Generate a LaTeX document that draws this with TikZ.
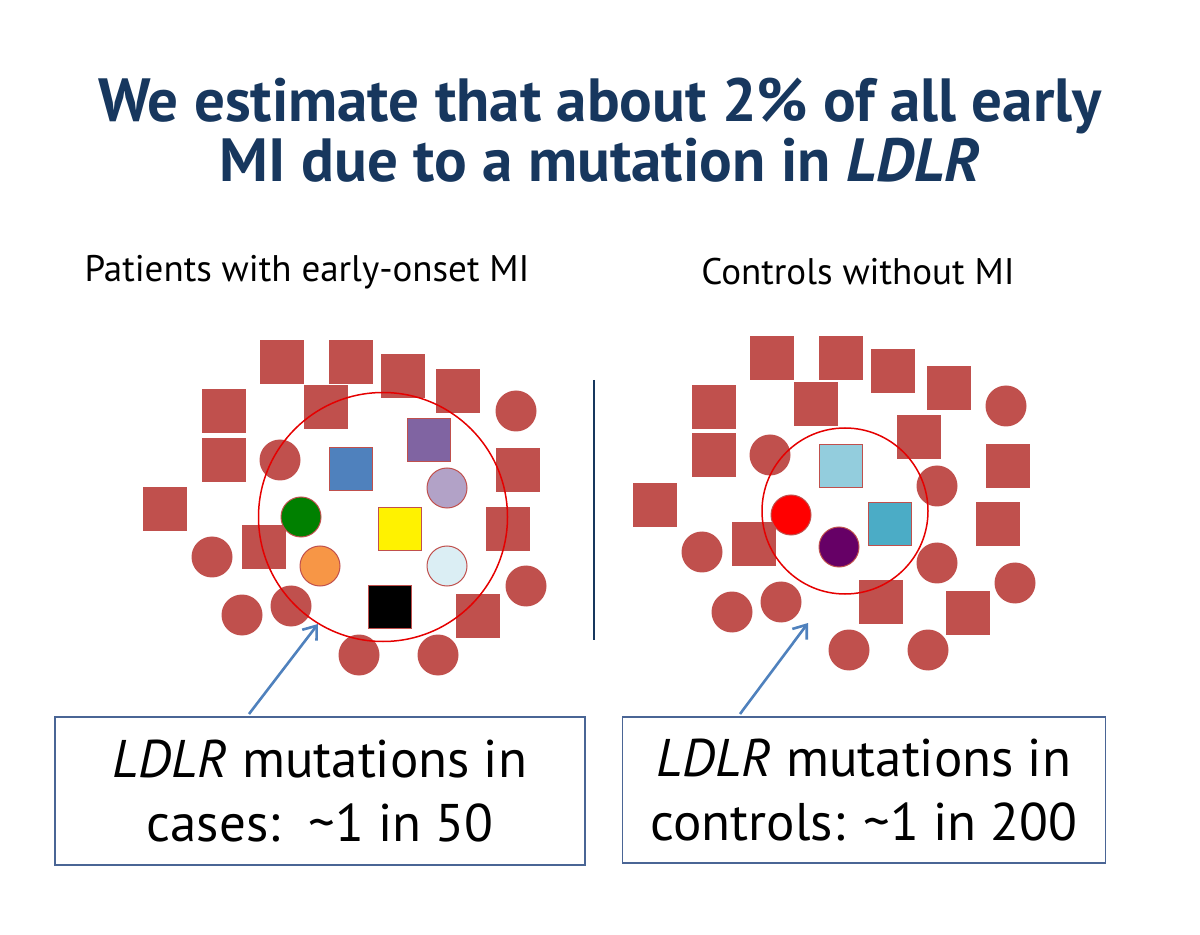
\documentclass[tikz,border=0pt]{standalone}
\usepackage{fontspec}
\setmainfont{PT Sans}
\usepackage{tikz}
\usetikzlibrary{arrows.meta}

\definecolor{brick}{HTML}{C0504D}
\definecolor{navy}{HTML}{17375E}
\definecolor{arrowblue}{HTML}{4F81BD}
\definecolor{boxline}{HTML}{4A6595}
\definecolor{mutpurple}{HTML}{8064A2}
\definecolor{mutlilac}{HTML}{B2A2C7}
\definecolor{mutgreen}{HTML}{008000}
\definecolor{mutorange}{HTML}{F79646}
\definecolor{mutpale}{HTML}{DBEEF4}
\definecolor{mutsky}{HTML}{93CDDD}
\definecolor{mutteal}{HTML}{4BACC6}
\definecolor{mutplum}{HTML}{660066}

\tikzset{
  sq/.style={rectangle, fill=brick, minimum size=22pt, inner sep=0pt},
  dot/.style={circle, fill=brick, minimum size=20.5pt, inner sep=0pt},
  mark sq/.style={rectangle, draw=brick, line width=0.5pt, fill=#1, minimum size=21.5pt, inner sep=0pt},
  mark dot/.style={circle, draw=brick, line width=0.5pt, fill=#1, minimum size=20pt, inner sep=0pt},
  ring/.style={circle, draw=red!90!black, line width=0.75pt, inner sep=0pt},
  result/.style={rectangle, draw=boxline, line width=0.7pt, align=center, inner sep=0pt,
    font=\fontsize{26.5}{32}\selectfont},
  arr/.style={-{Straight Barb[length=6pt,width=9pt]}, arrowblue, line width=1.3pt}
}

\begin{document}
\begin{tikzpicture}[x=0.5pt,y=-0.5pt]
\useasboundingbox (0,0) rectangle (1200,935);

\node[font=\fontsize{30.5}{30}\bfseries\selectfont, text=navy, align=center] (title) at (600,130)
  {We estimate that about 2\% of all early\\MI due to a mutation in \textit{LDLR}};

\node[font=\fontsize{18.5}{22}\selectfont] (headL) at (307,272) {Patients with early-onset MI};
\node[font=\fontsize{18.5}{22}\selectfont] (headR) at (858,272) {Controls without MI};

% cases
\foreach \x/\y [count=\i] in {282/362, 351/362, 403/376, 458/391, 326/407, 224/411, 224/460,
  165/509, 264/547, 518/470, 508/529, 478/616}
  \node[sq] (sqL\i) at (\x,\y) {};
\foreach \x/\y [count=\i] in {516/411, 280/460, 212/557, 242/615, 291/606, 526/586, 359/655, 438/655}
  \node[dot] (dotL\i) at (\x,\y) {};
\node[mark sq=arrowblue] (blueL) at (351,469) {};
\node[mark sq=mutpurple] (purpleL) at (429,440) {};
\node[mark sq=yellow] (yellowL) at (400,529) {};
\node[mark sq=black] (blackL) at (390,607) {};
\node[mark dot=mutlilac] (lilacL) at (447,488) {};
\node[mark dot=mutgreen] (greenL) at (301,517) {};
\node[mark dot=mutorange] (orangeL) at (320,566) {};
\node[mark dot=mutpale] (paleL) at (447,566) {};
\node[ring, minimum size=124.5pt] (ringL) at (383,517) {};

% controls
\foreach \x/\y [count=\i] in {772/358, 841/358, 893/371, 949/388, 816/404, 714/407, 714/455,
  655/505, 754/544, 919/437, 1008/466, 998/524, 881/602, 968/613}
  \node[sq] (sqR\i) at (\x,\y) {};
\foreach \x/\y [count=\i] in {1006/406, 770/455, 937/486, 702/552, 937/563, 1015/583,
  732/612, 781/602, 849/650, 928/650}
  \node[dot] (dotR\i) at (\x,\y) {};
\node[mark sq=mutsky] (skyR) at (841,466) {};
\node[mark sq=mutteal] (tealR) at (890,524) {};
\node[mark dot=red] (redR) at (791,515) {};
\node[mark dot=mutplum] (plumR) at (839,547) {};
\node[ring, minimum size=83pt] (ringR) at (845,511) {};

\coordinate (sepT) at (594,380);
\coordinate (sepB) at (594,640);
\draw[navy, line width=0.6pt] (sepT) -- (sepB);

\node[result, minimum width=265pt, minimum height=74pt] (boxL) at (320,791)
  {\textit{LDLR} mutations in\\cases:\ \ \textasciitilde1 in 50};
\node[result, minimum width=241.5pt, minimum height=73pt] (boxR) at (864,790)
  {\textit{LDLR} mutations in\\controls: \textasciitilde1 in 200};

\coordinate (tailL) at (249,714);
\coordinate (tipL) at (318,624);
\coordinate (tailR) at (740,714);
\coordinate (tipR) at (808,623);
\draw[arr] (tailL) -- (tipL);
\draw[arr] (tailR) -- (tipR);
\end{tikzpicture}
\end{document}
